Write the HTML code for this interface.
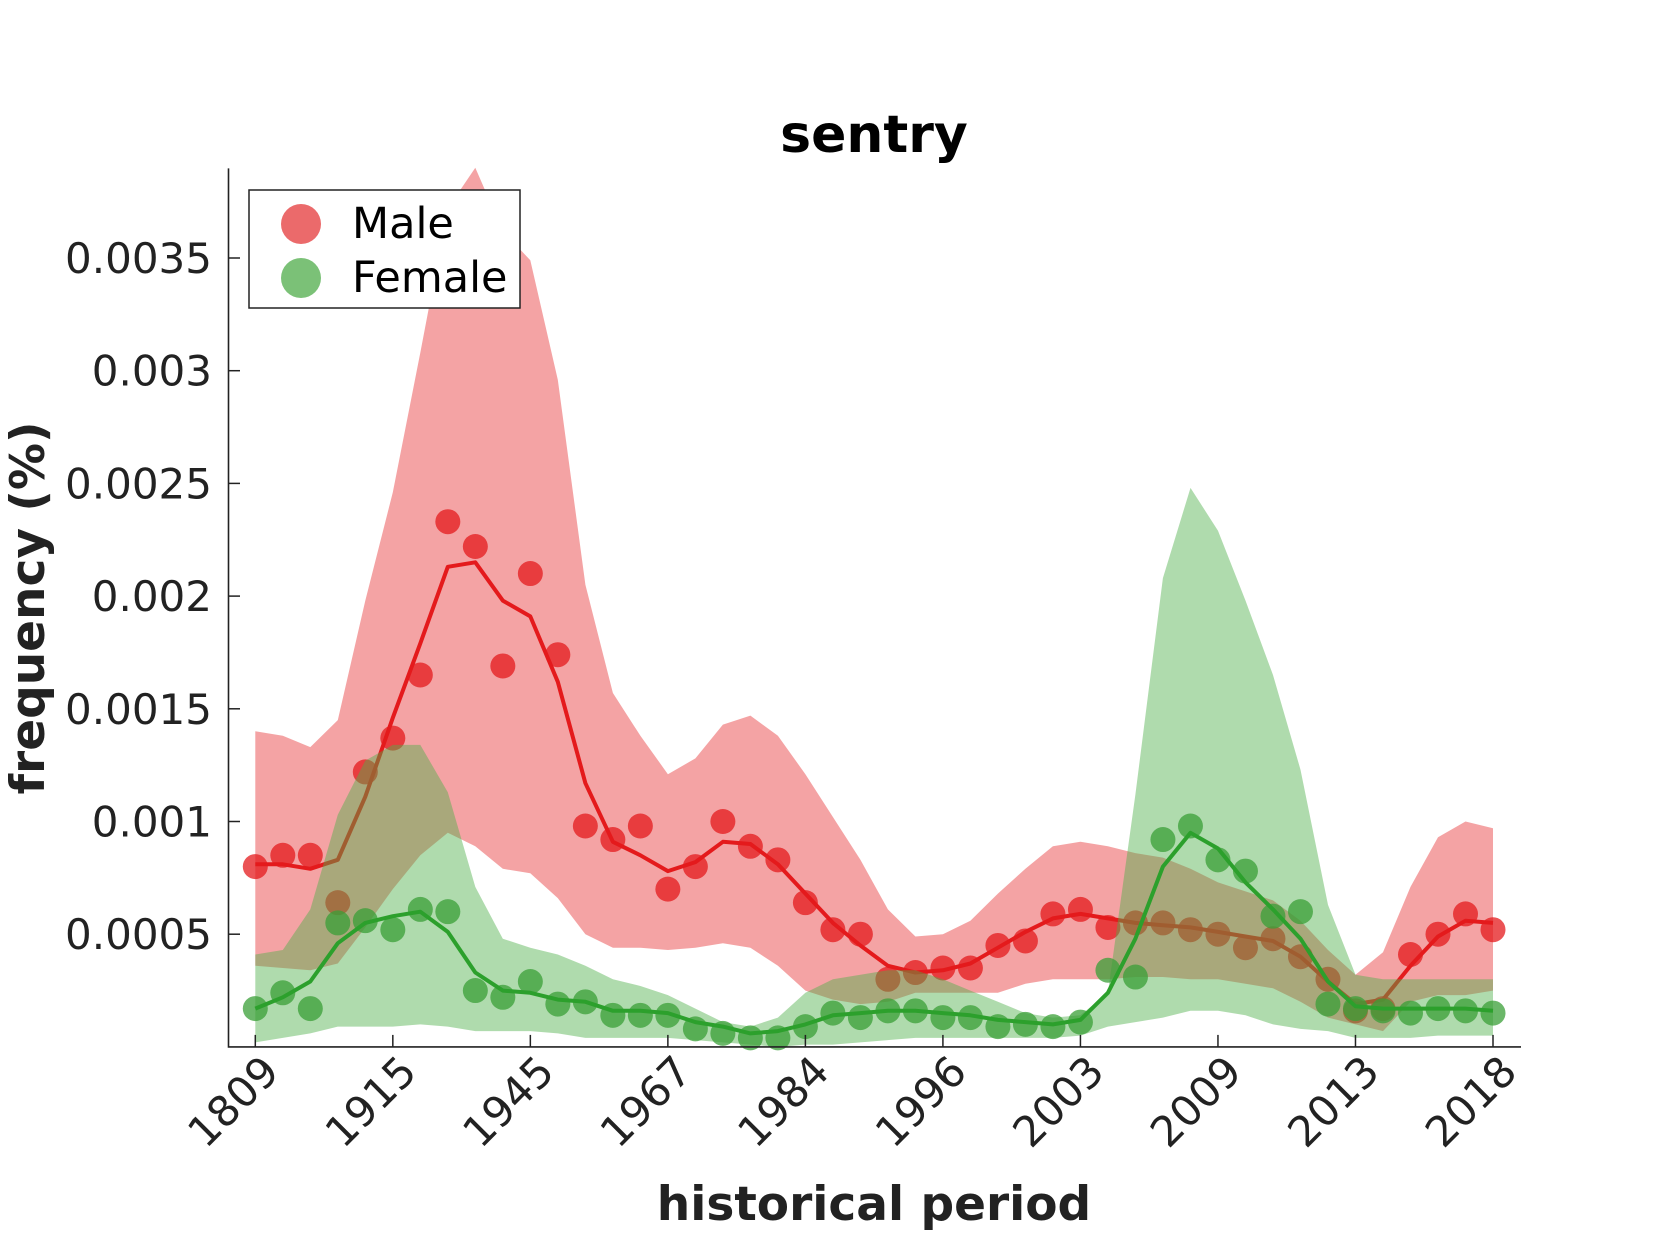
<!DOCTYPE html>
<html><head><meta charset="utf-8"><style>
html,body{margin:0;padding:0;background:#fff}
svg{display:block;font-family:"DejaVu Sans","Liberation Sans",sans-serif}
</style></head><body>
<svg id="chart" width="1680" height="1260" viewBox="0 0 1680 1260" xmlns="http://www.w3.org/2000/svg">
<rect width="1680" height="1260" fill="#fff"/>
<g id="plot"></g>
<text x="874" y="152" font-size="52" font-weight="bold" text-anchor="middle" fill="#000">sentry</text>
<text x="874" y="1220" font-size="47" font-weight="bold" text-anchor="middle" fill="#222">historical period</text>
<text transform="translate(44,608) rotate(-90)" font-size="47" font-weight="bold" text-anchor="middle" fill="#222">frequency (%)</text>
<g>
<rect x="249" y="190" width="271" height="118" fill="#fff" stroke="#222" stroke-width="1.5"/>
<circle cx="301" cy="224" r="20" fill="#eb6a6b"/>
<text x="352" y="238" font-size="43" fill="#000">Male</text>
<circle cx="301" cy="278" r="20" fill="#7bc177"/>
<text x="352" y="292" font-size="43" fill="#000">Female</text>
</g>
</svg>
<script>
const periods=["1809","1915","1945","1967","1984","1996","2003","2009","2013","2018"];
const yTicks=[0.0005,0.001,0.0015,0.002,0.0025,0.003,0.0035];
const yTickLabels=["0.0005","0.001","0.0015","0.002","0.0025","0.003","0.0035"];
const maleDots=[0.0008,0.00085,0.00085,0.00064,0.00122,0.00137,0.00165,0.00233,0.00222,0.00169,0.0021,0.00174,0.00098,0.00092,0.00098,0.0007,0.0008,0.001,0.00089,0.00083,0.00064,0.00052,0.0005,0.0003,0.00033,0.00035,0.00035,0.00045,0.00047,0.00059,0.00061,0.00053,0.00055,0.00055,0.00052,0.0005,0.00044,0.00048,0.0004,0.0003,0.00016,0.00017,0.00041,0.0005,0.00059,0.00052];
const maleLine=[0.00081,0.00081,0.00079,0.00083,0.00111,0.00146,0.00179,0.00213,0.00215,0.00198,0.00191,0.00162,0.00117,0.00091,0.00085,0.00078,0.00082,0.00091,0.0009,0.00081,0.00068,0.00055,0.00045,0.00036,0.00033,0.00034,0.00037,0.00044,0.00051,0.00057,0.00059,0.00057,0.00055,0.00054,0.00053,0.00051,0.00049,0.00047,0.0004,0.00029,0.00019,0.00021,0.00036,0.00049,0.00056,0.00055];
const maleUpper=[0.0014,0.00138,0.00133,0.00145,0.00198,0.00246,0.00308,0.00372,0.0039,0.00362,0.00349,0.00296,0.00205,0.00157,0.00138,0.00121,0.00128,0.00143,0.00147,0.00138,0.00121,0.00102,0.00083,0.00061,0.00049,0.0005,0.00056,0.00068,0.00079,0.00089,0.00091,0.00089,0.00086,0.00084,0.00079,0.00073,0.00069,0.00065,0.00056,0.00043,0.00032,0.00042,0.00071,0.00093,0.001,0.00097];
const maleLower=[0.00036,0.00035,0.00034,0.00037,0.00053,0.0007,0.00085,0.00095,0.00089,0.00079,0.00077,0.00066,0.0005,0.00044,0.00044,0.00043,0.00044,0.00046,0.00044,0.00036,0.00025,0.00021,0.00019,0.0002,0.00024,0.00024,0.00024,0.00024,0.00028,0.0003,0.0003,0.0003,0.00031,0.00031,0.0003,0.0003,0.00028,0.00026,0.0002,0.00013,0.0001,0.00007,0.0002,0.00023,0.00023,0.00025];
const femaleDots=[0.00017,0.00024,0.00017,0.00055,0.00056,0.00052,0.00061,0.0006,0.00025,0.00022,0.00029,0.00019,0.0002,0.00014,0.00014,0.00014,0.00008,0.00006,0.00004,0.00004,0.00009,0.00015,0.00013,0.00016,0.00016,0.00013,0.00013,0.00009,0.0001,0.00009,0.00011,0.00034,0.00031,0.00092,0.00098,0.00083,0.00078,0.00058,0.0006,0.00019,0.00017,0.00016,0.00015,0.00017,0.00016,0.00015];
const femaleLine=[0.00017,0.00022,0.00029,0.00046,0.00055,0.00058,0.0006,0.00051,0.00033,0.00025,0.00024,0.00021,0.0002,0.00016,0.00016,0.00015,0.00011,0.00009,0.00006,0.00007,0.0001,0.00014,0.00015,0.00016,0.00016,0.00015,0.00014,0.00012,0.00011,0.0001,0.00012,0.00024,0.00048,0.0008,0.00095,0.00088,0.00073,0.00061,0.00048,0.00029,0.00018,0.00017,0.00017,0.00017,0.00017,0.00016];
const femaleUpper=[0.00041,0.00043,0.00061,0.00103,0.00127,0.00134,0.00134,0.00113,0.00071,0.00048,0.00044,0.00041,0.00036,0.0003,0.00027,0.00023,0.00017,0.00011,0.00009,0.00013,0.00024,0.0003,0.00032,0.00034,0.00034,0.0003,0.00025,0.0002,0.00015,0.00013,0.00014,0.00024,0.00112,0.00208,0.00248,0.00229,0.00198,0.00165,0.00123,0.00063,0.00032,0.0003,0.0003,0.0003,0.0003,0.0003];
const femaleLower=[0.00002,0.00004,0.00006,0.00009,0.00009,0.00009,0.0001,0.00009,0.00007,0.00007,0.00007,0.00006,0.00004,0.00004,0.00004,0.00004,0.00003,0.00002,0.00001,0,0.00001,0.00001,0.00002,0.00003,0.00004,0.00004,0.00004,0.00004,0.00004,0.00004,0.00005,0.00009,0.00011,0.00013,0.00016,0.00016,0.00014,0.0001,0.00008,0.00007,0.00004,0.00004,0.00004,0.00005,0.00005,0.00005];

const NS="http://www.w3.org/2000/svg";
const plot=document.getElementById('plot');
const N=maleDots.length;
const X0=255.3,X1=1493,Y0=1046.9,PX=112.7/0.0005;
function xs(i){return X0+i*(X1-X0)/(N-1);}
function ys(v){return Y0-v*PX;}
function mk(tag,attrs){const e=document.createElementNS(NS,tag);for(const k in attrs)e.setAttribute(k,attrs[k]);plot.appendChild(e);return e;}
function bandPath(up,lo){let d='';up.forEach((v,i)=>{d+=(i?'L':'M')+xs(i).toFixed(1)+','+ys(v).toFixed(1);});for(let i=lo.length-1;i>=0;i--)d+='L'+xs(i).toFixed(1)+','+ys(lo[i]).toFixed(1);return d+'Z';}
function linePath(a){return a.map((v,i)=>(i?'L':'M')+xs(i).toFixed(1)+','+ys(v).toFixed(1)).join('');}

let e=mk('path',{d:bandPath(maleUpper,maleLower),fill:'#e41a1c','fill-opacity':0.4});


maleDots.forEach((v,i)=>{const c=mk('circle',{cx:xs(i),cy:ys(v),r:12.5,fill:'#e41a1c','fill-opacity':0.75});

});
e=mk('path',{d:linePath(maleLine),fill:'none',stroke:'#e41a1c','stroke-width':4,'stroke-linejoin':'round'});


e=mk('path',{d:bandPath(femaleUpper,femaleLower),fill:'#4daf4a','fill-opacity':0.45});


femaleDots.forEach((v,i)=>{const c=mk('circle',{cx:xs(i),cy:ys(v),r:12.5,fill:'#3a9f37','fill-opacity':0.75});

});
e=mk('path',{d:linePath(femaleLine),fill:'none',stroke:'#2ca02c','stroke-width':4,'stroke-linejoin':'round'});



e=mk('path',{d:'M228.5,168.4V1046.9H1521',fill:'none',stroke:'#222','stroke-width':1.6});


yTicks.forEach((v,k)=>{const t=mk('line',{x1:228.5,x2:240,y1:ys(v),y2:ys(v),stroke:'#222','stroke-width':1.5});


const l=mk('text',{x:212,y:ys(v)+15,'font-size':42,'text-anchor':'end',fill:'#222'});
l.textContent=yTickLabels[k];

});
periods.forEach((p,k)=>{const i=k*5;const x=xs(i);
const t=mk('line',{x1:x,x2:x,y1:Y0,y2:Y0-12,stroke:'#222','stroke-width':1.5});


const l=mk('text',{transform:'translate('+(x+26)+',1074) rotate(-45)','font-size':42,'text-anchor':'end',fill:'#222'});
l.textContent=p;

});
</script>
</body></html>
